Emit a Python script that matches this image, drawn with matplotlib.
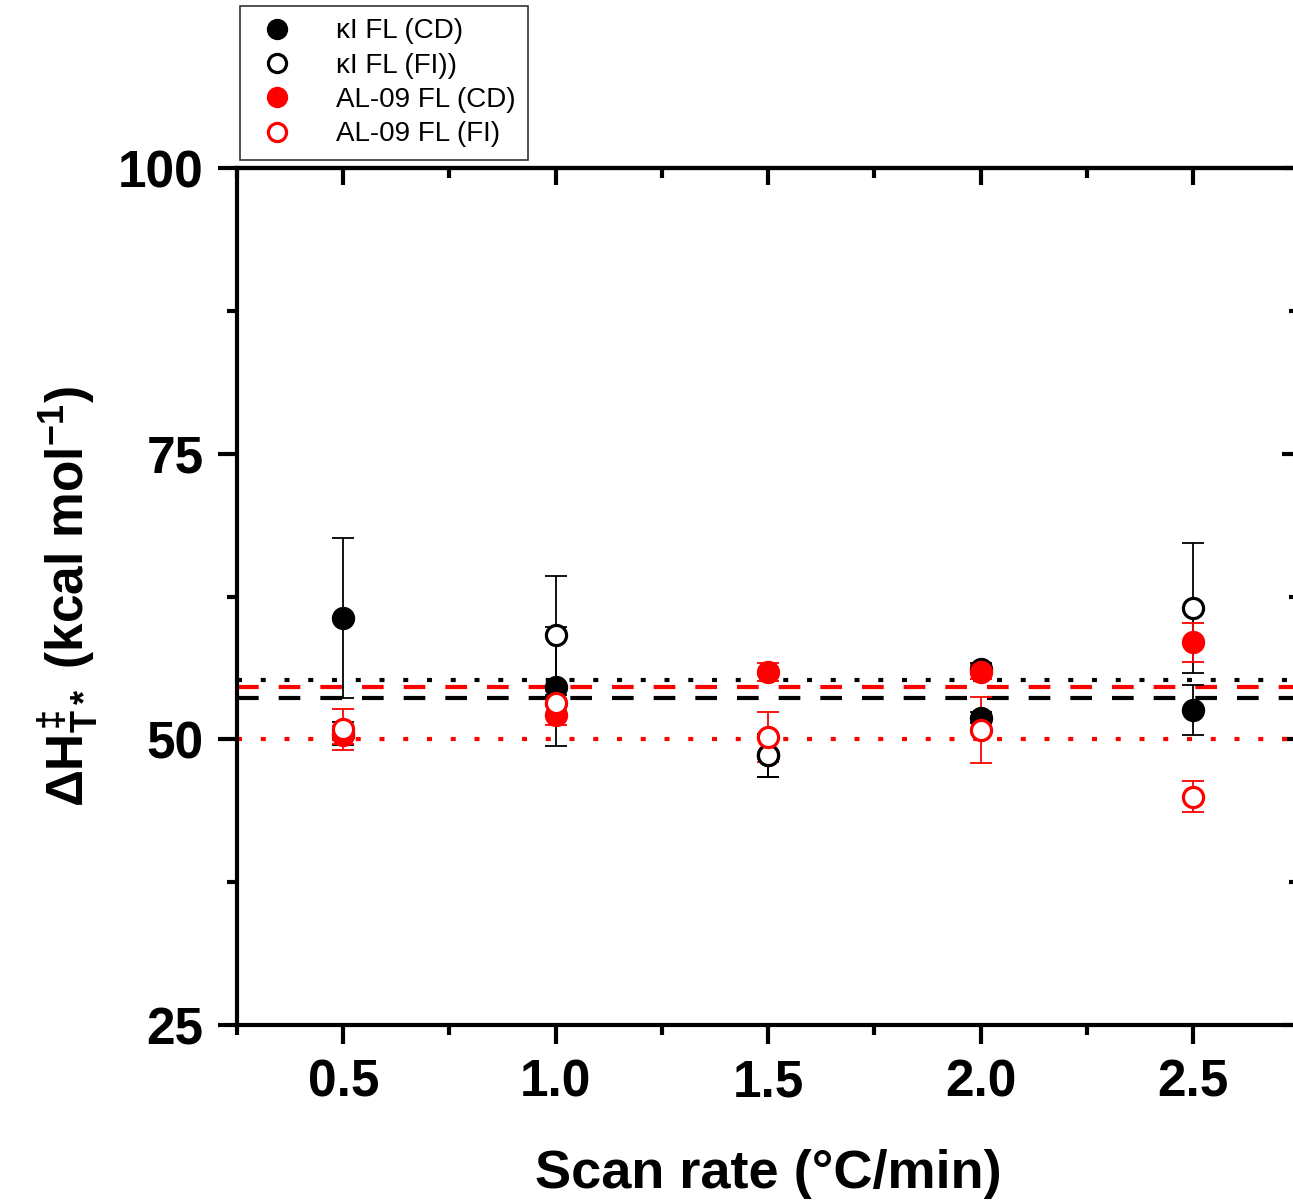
import numpy as np
import matplotlib.pyplot as plt
from matplotlib.ticker import MultipleLocator

plt.rcParams['font.family'] = ['Liberation Sans', 'DejaVu Sans']
plt.rcParams['mathtext.fontset'] = 'custom'
plt.rcParams['mathtext.rm'] = 'Liberation Sans:bold'
plt.rcParams['mathtext.it'] = 'Liberation Sans:bold'
plt.rcParams['mathtext.bf'] = 'Liberation Sans:bold'

# scan rates and activation enthalpies
scan_rate = [0.5, 1.0, 1.5, 2.0, 2.5]

ki_cd = [60.6, 54.6, 48.6, 51.9, 52.6]
ki_cd_err = [7.0, 5.2, 1.9, 0.5, 2.2]
ki_fi = [50.5, 59.1, 48.6, 56.2, 61.5]
ki_fi_err = [1.0, 5.2, 1.9, 0.5, 5.7]
al_cd = [50.4, 52.1, 55.9, 55.9, 58.5]
al_cd_err = [0.8, 0.8, 0.8, 0.6, 1.7]
al_fi = [50.9, 53.2, 50.2, 50.8, 45.0]
al_fi_err = [1.8, 1.0, 2.2, 2.9, 1.35]

labels = ['\u03baI FL (CD)', '\u03baI FL (FI))', 'AL-09 FL (CD)', 'AL-09 FL (FI)']

fig = plt.figure(figsize=(12.93, 12.01), dpi=100)
ax = fig.add_axes([0.1833, 0.1465, 0.8217, 0.7136])

dash = (5.2, 4.8)
dot = (1.2, 4.5)

series = [
    (ki_cd, ki_cd_err, 'black', 'black', dash),
    (ki_fi, ki_fi_err, 'black', 'white', dot),
    (al_cd, al_cd_err, 'red', 'red', dash),
    (al_fi, al_fi_err, 'red', 'white', dot),
]

# mean lines
for vals, err, col, face, ls in series:
    ax.axhline(np.mean(vals), color=col, lw=3, linestyle=(0, ls), zorder=1)

handles = []
for i, (vals, err, col, face, ls) in enumerate(series):
    ax.errorbar(scan_rate, vals, yerr=err, fmt='none', ecolor=col,
                elinewidth=1.3, capsize=8, capthick=1.3, zorder=2 + i)
    h, = ax.plot(scan_rate, vals, 'o', ms=14.5, mec=col, mfc=face, mew=2.3,
                 linestyle='none', zorder=6 + i)
    handles.append(h)

ax.set_xlim(0.25, 2.75)
ax.set_ylim(25, 100)
ax.xaxis.set_major_locator(MultipleLocator(0.5))
ax.xaxis.set_minor_locator(MultipleLocator(0.25))
ax.yaxis.set_major_locator(MultipleLocator(25))
ax.yaxis.set_minor_locator(MultipleLocator(12.5))
ax.xaxis.set_major_formatter(plt.FormatStrFormatter('%.1f'))

for s in ax.spines.values():
    s.set_linewidth(3)

ax.tick_params(axis='both', which='major', direction='out', length=14, width=3,
               labelsize=37, pad=10)
ax.tick_params(axis='both', which='minor', direction='out', length=7, width=3)
for lab in ax.get_xticklabels() + ax.get_yticklabels():
    lab.set_fontweight('bold')

# inward ticks on top and right
top = ax.secondary_xaxis('top')
top.set_xticks([0.5, 1.0, 1.5, 2.0, 2.5])
top.xaxis.set_minor_locator(MultipleLocator(0.25))
top.tick_params(which='major', direction='in', length=12, width=3, labeltop=False)
top.tick_params(which='minor', direction='in', length=7, width=3)
top.spines['top'].set_linewidth(3)
right = ax.secondary_yaxis('right')
right.set_yticks([25, 50, 75, 100])
right.yaxis.set_minor_locator(MultipleLocator(12.5))
right.tick_params(which='major', direction='in', length=12, width=3, labelright=False)
right.tick_params(which='minor', direction='in', length=7, width=3)

ax.set_xlabel('Scan rate (\u00b0C/min)', fontsize=39, fontweight='bold', labelpad=30)
ax.set_ylabel(r'$\Delta H^{\ddagger}_{T*}$ (kcal mol$^{-1}$)', fontsize=37,
              fontweight='bold', labelpad=12)

leg = fig.legend(handles, labels, loc='lower left',
                 bbox_to_anchor=(0.1856, 0.8668),
                 fontsize=20, frameon=True, fancybox=False, edgecolor='black',
                 markerscale=0.9, handletextpad=1.2, borderpad=0.45,
                 labelspacing=0.3, handlelength=1.8, borderaxespad=0)
leg.get_frame().set_linewidth(1.2)

fig.savefig('out.png', dpi=100)
